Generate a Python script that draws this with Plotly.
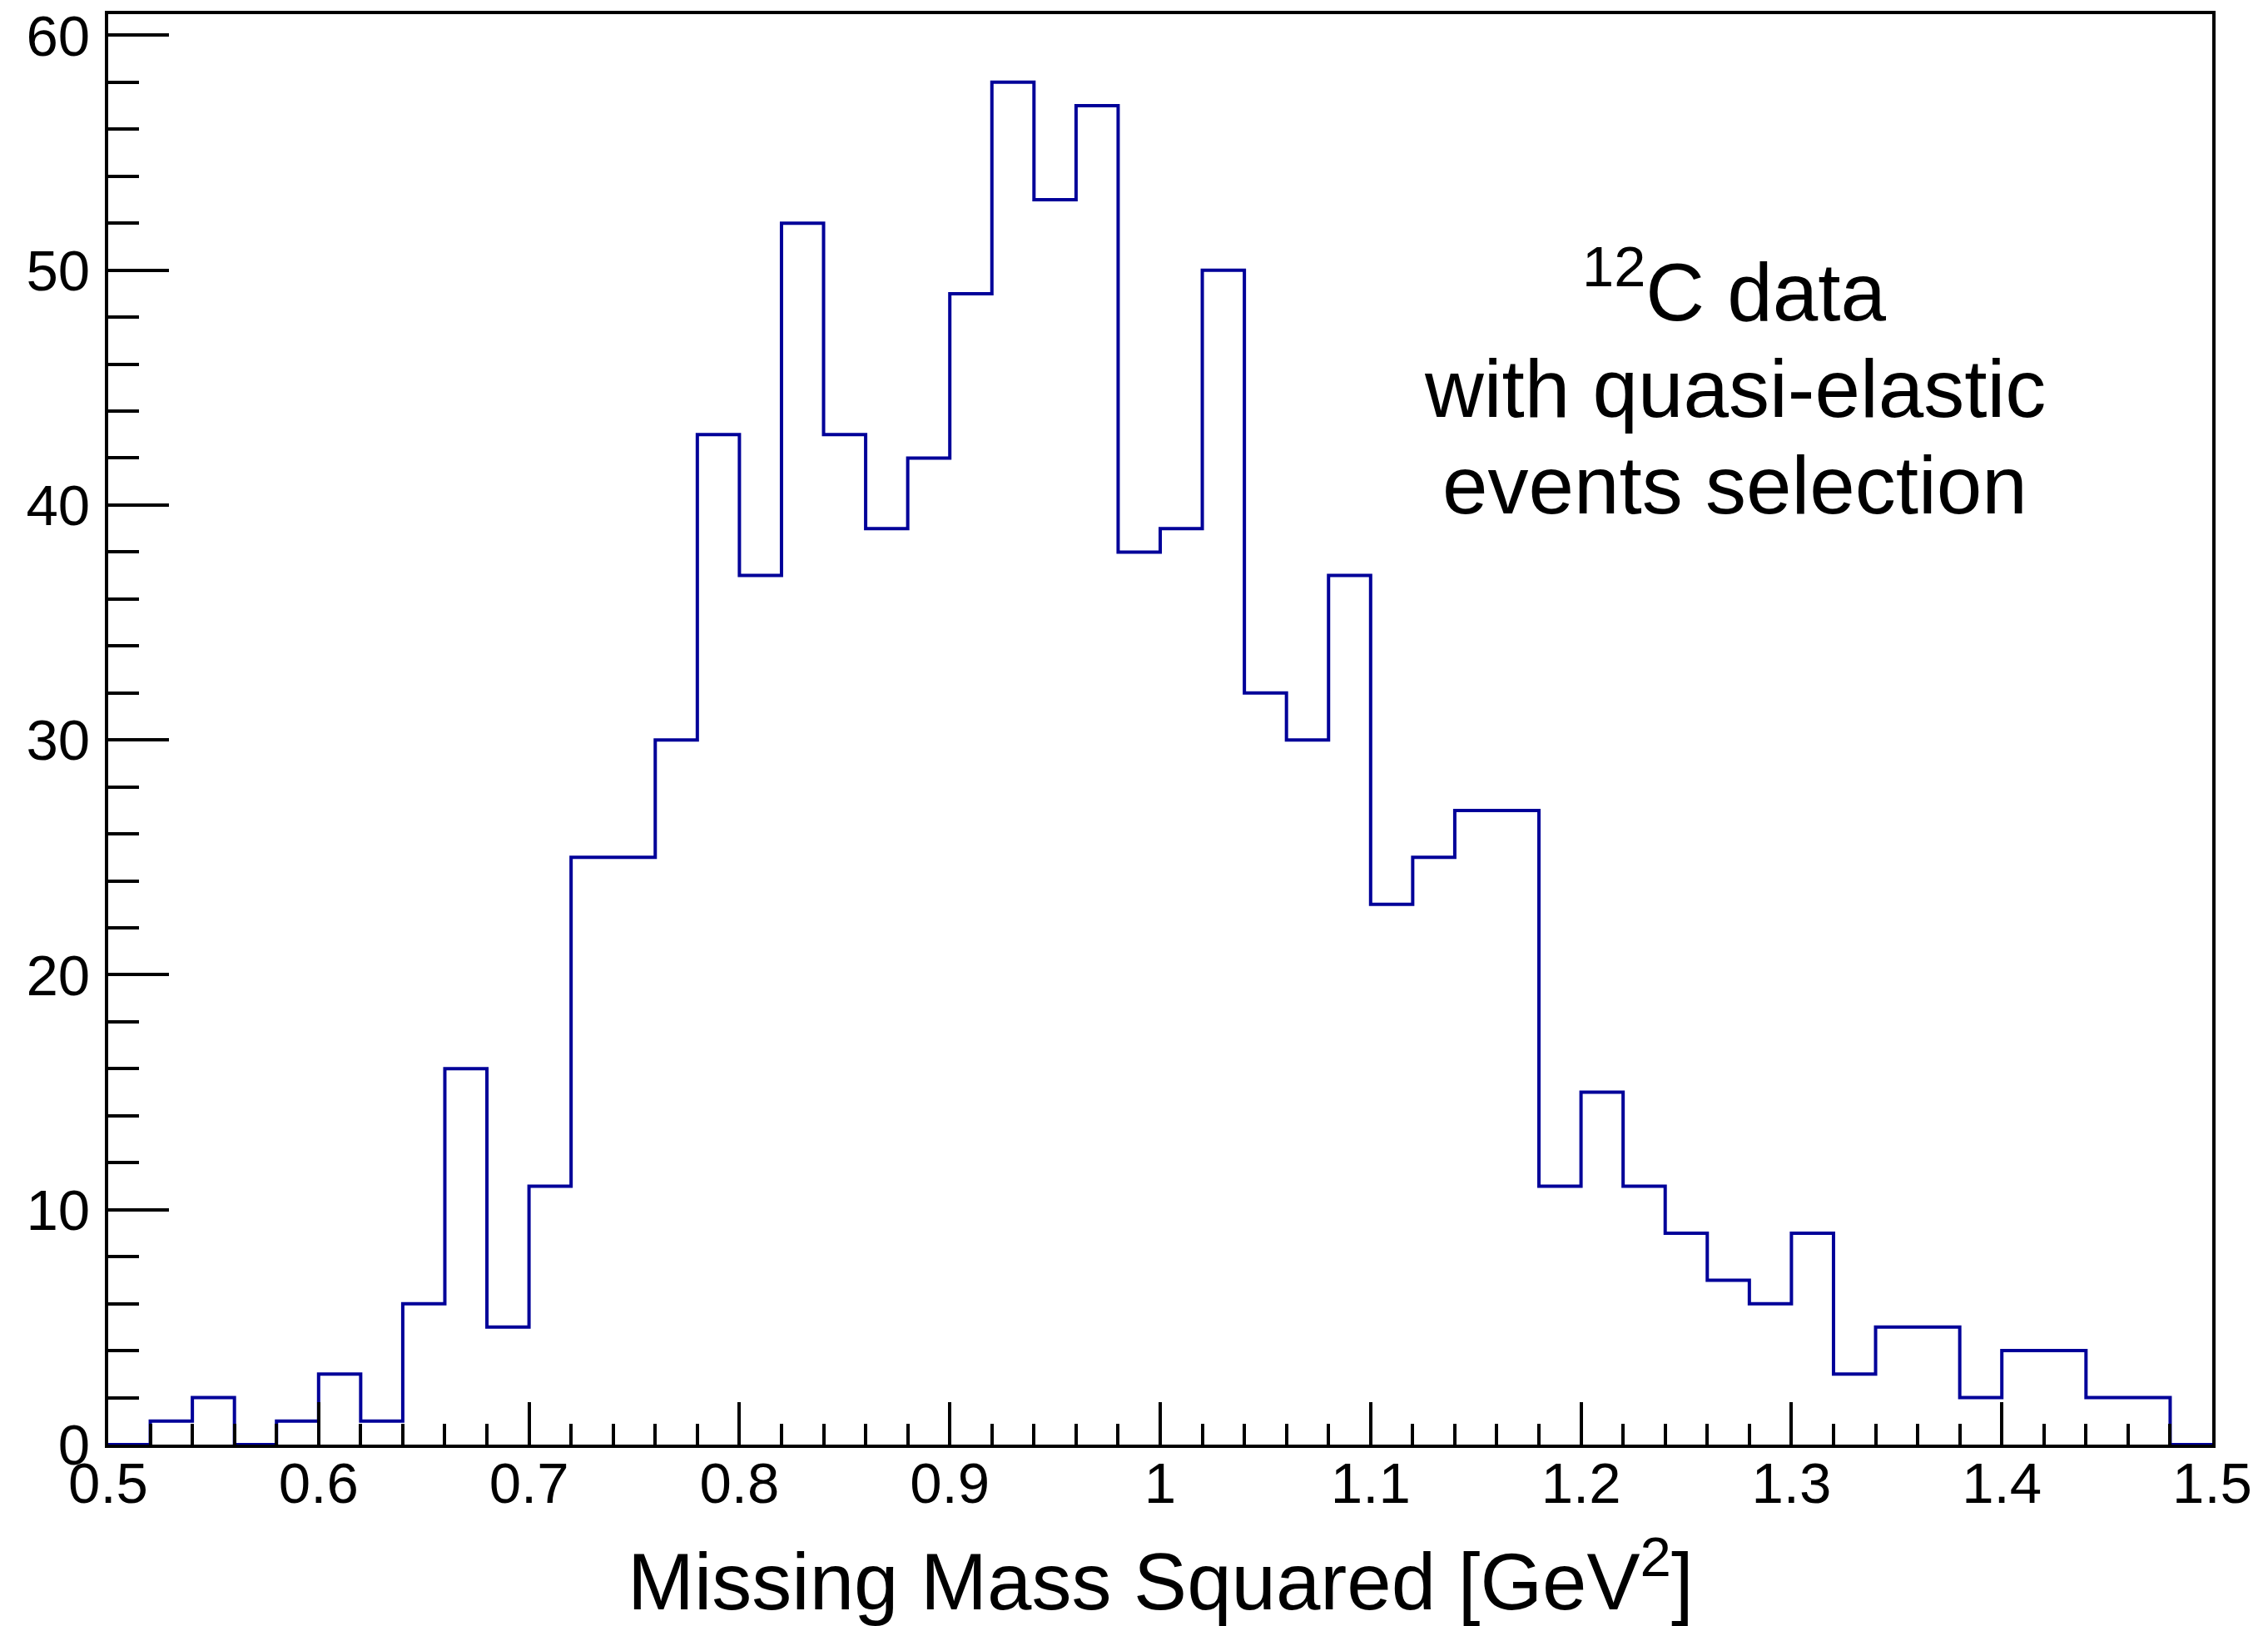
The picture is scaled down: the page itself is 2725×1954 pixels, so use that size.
import plotly.graph_objects as go

bin_edges_start = 0.5
bin_width = 0.02
counts = [0, 1, 2, 0, 1, 3, 1, 6, 16, 5,
          11, 25, 25, 30, 43, 37, 52, 43, 39, 42,
          49, 58, 53, 57, 38, 39, 50, 32, 30, 37,
          23, 25, 27, 27, 11, 15, 11, 9, 7, 6,
          9, 3, 5, 5, 2, 4, 4, 2, 2, 0]
x_tick_vals = [0.5, 0.6, 0.7, 0.8, 0.9, 1.0, 1.1, 1.2, 1.3, 1.4, 1.5]
x_tick_text = ["0.5", "0.6", "0.7", "0.8", "0.9", "1", "1.1", "1.2", "1.3", "1.4", "1.5"]
y_tick_vals = [0, 10, 20, 30, 40, 50, 60]
label_lines = ["<sup>12</sup>C data", "with quasi-elastic", "events selection"]
label_y = [49.3, 44.95, 40.86]
label_x = 1.273
x_title = "Missing Mass Squared [GeV<sup>2</sup>]"

edges = [round(bin_edges_start + i * bin_width, 4) for i in range(len(counts) + 1)]
ys = counts + [counts[-1]]

FONT = "Liberation Sans, Arial, Helvetica, sans-serif"

fig = go.Figure()
fig.add_trace(go.Scatter(
    x=edges, y=ys, mode="lines", line=dict(shape="hv", color="#000099", width=4),
    hoverinfo="skip", showlegend=False))

for txt, yy in zip(label_lines, label_y):
    fig.add_annotation(
        x=label_x, y=yy, xref="x", yref="y", text=txt,
        showarrow=False, align="center", xanchor="center", yanchor="middle",
        font=dict(family=FONT, size=98, color="black"))

fig.add_annotation(
    x=0.5, y=-0.0915, xref="paper", yref="paper", text=x_title,
    showarrow=False, xanchor="center", yanchor="middle",
    font=dict(family=FONT, size=96, color="black"))

fig.update_layout(
    width=2725, height=1954,
    margin=dict(l=130, r=67, t=17, b=218, autoexpand=False),
    paper_bgcolor="white", plot_bgcolor="white",
    font=dict(family=FONT, color="black"),
)
fig.update_xaxes(
    range=[0.5, 1.5], tickmode="array", tickvals=x_tick_vals, ticktext=x_tick_text,
    ticks="inside", ticklen=51, tickwidth=4, tickcolor="black",
    minor=dict(ticks="inside", ticklen=25, tickwidth=4, tickcolor="black", dtick=0.02, tick0=0.5, showgrid=False),
    showline=True, linewidth=4, linecolor="black", mirror=True,
    showgrid=False, zeroline=False, automargin=False,
    tickfont=dict(size=69, family=FONT), ticklabelstandoff=-17,
)
fig.update_yaxes(
    range=[0, 60.9], tickmode="array", tickvals=y_tick_vals,
    ticks="inside", ticklen=73, tickwidth=4, tickcolor="black",
    minor=dict(ticks="inside", ticklen=37, tickwidth=4, tickcolor="black", dtick=2, tick0=0, showgrid=False),
    showline=True, linewidth=4, linecolor="black", mirror=True,
    showgrid=False, zeroline=False, automargin=False,
    tickfont=dict(size=69, family=FONT), ticklabelstandoff=4,
)

fig.write_html("out.html")
